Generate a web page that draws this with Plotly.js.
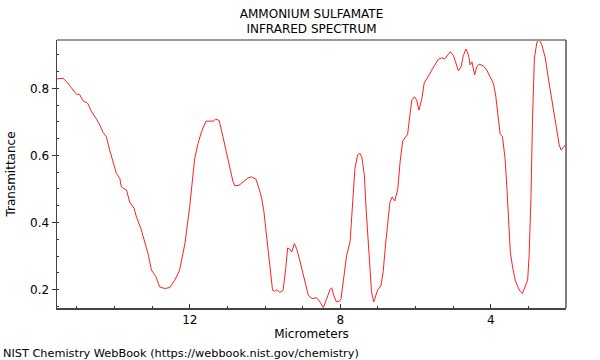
<!DOCTYPE html>
<html>
<head>
<meta charset="utf-8">
<script src="https://cdn.plot.ly/plotly-3.0.1.min.js"></script>
<style>html,body{margin:0;padding:0;background:#fff;}#chart{width:600px;height:360px;}</style>
</head>
<body>
<div id="chart"></div>
<script>
// Wavelength in micrometers (x) and transmittance (y)
const wavelength_um = [15.53,15.37,15.28,15.17,15.01,14.93,14.84,14.71,14.62,14.48,14.39,14.31,14.22,14.13,14.04,13.95,13.86,13.82,13.68,13.60,13.48,13.42,13.30,13.24,13.11,13.02,12.90,12.80,12.67,12.53,12.40,12.27,12.13,12.00,11.93,11.87,11.78,11.69,11.57,11.47,11.38,11.31,11.22,11.16,11.07,11.00,10.94,10.85,10.80,10.69,10.58,10.45,10.36,10.24,10.16,10.09,10.03,9.96,9.89,9.80,9.74,9.68,9.61,9.52,9.45,9.40,9.34,9.29,9.22,9.16,9.09,9.03,8.94,8.85,8.75,8.63,8.54,8.45,8.36,8.27,8.23,8.16,8.10,8.03,7.98,7.89,7.83,7.74,7.70,7.65,7.61,7.54,7.48,7.43,7.36,7.32,7.27,7.21,7.17,7.11,7.06,7.01,6.92,6.86,6.79,6.74,6.68,6.62,6.55,6.47,6.41,6.34,6.28,6.21,6.15,6.10,6.03,5.97,5.91,5.83,5.77,5.66,5.57,5.50,5.39,5.30,5.23,5.13,5.08,4.99,4.93,4.86,4.79,4.73,4.66,4.59,4.55,4.50,4.43,4.37,4.31,4.20,4.11,4.02,3.93,3.87,3.81,3.75,3.69,3.62,3.57,3.53,3.48,3.42,3.35,3.28,3.22,3.16,3.09,3.02,2.98,2.93,2.89,2.84,2.77,2.71,2.64,2.55,2.47,2.38,2.31,2.24,2.18,2.13,2.07,2.02];
const transmittance = [0.828,0.830,0.820,0.805,0.782,0.782,0.763,0.755,0.732,0.708,0.690,0.669,0.656,0.616,0.581,0.546,0.531,0.506,0.496,0.461,0.442,0.417,0.382,0.357,0.307,0.258,0.238,0.208,0.203,0.206,0.228,0.258,0.337,0.450,0.531,0.591,0.636,0.670,0.702,0.702,0.702,0.708,0.704,0.676,0.631,0.591,0.556,0.521,0.509,0.511,0.521,0.533,0.536,0.529,0.501,0.473,0.432,0.362,0.273,0.198,0.195,0.200,0.191,0.198,0.263,0.324,0.320,0.312,0.337,0.322,0.293,0.263,0.218,0.183,0.173,0.176,0.163,0.146,0.173,0.201,0.205,0.178,0.163,0.165,0.173,0.253,0.302,0.342,0.402,0.481,0.561,0.601,0.606,0.596,0.541,0.452,0.362,0.273,0.193,0.163,0.178,0.198,0.211,0.253,0.342,0.402,0.461,0.476,0.464,0.501,0.581,0.643,0.651,0.663,0.720,0.765,0.775,0.765,0.735,0.770,0.815,0.838,0.855,0.867,0.887,0.891,0.887,0.904,0.909,0.897,0.879,0.852,0.864,0.897,0.917,0.899,0.870,0.879,0.840,0.864,0.872,0.867,0.855,0.835,0.815,0.780,0.720,0.663,0.656,0.591,0.501,0.402,0.312,0.267,0.228,0.208,0.195,0.188,0.208,0.228,0.302,0.481,0.710,0.890,0.939,0.944,0.929,0.890,0.830,0.770,0.730,0.681,0.631,0.616,0.623,0.631];

const xTickVals = [12, 8, 4];
const yTickVals = [0.2, 0.4, 0.6, 0.8];

const font = {family: 'DejaVu Sans, sans-serif', size: 12, color: '#000'};

const trace = {
  x: wavelength_um,
  y: transmittance,
  type: 'scatter',
  mode: 'lines',
  line: {color: '#ff2020', width: 1},
  hoverinfo: 'skip'
};

const layout = {
  width: 600,
  height: 360,
  margin: {l: 57, r: 34, t: 40, b: 52, pad: 0},
  paper_bgcolor: '#fff',
  plot_bgcolor: '#fff',
  font: font,
  showlegend: false,
  title: {
    text: 'AMMONIUM SULFAMATE<br>INFRARED SPECTRUM',
    font: font,
    xref: 'paper', x: 0.5, xanchor: 'center',
    yref: 'container', y: 0.951, yanchor: 'top'
  },
  xaxis: {
    range: [15.53, 2.0],
    autorange: false,
    tickmode: 'array',
    tickvals: xTickVals,
    ticktext: xTickVals.map(String),
    ticks: 'inside', ticklen: 4, tickcolor: '#333', tickwidth: 1,
    minor: {dtick: 1, tick0: 0, ticks: 'inside', ticklen: 2, tickcolor: '#333', showgrid: false},
    showline: true, linecolor: '#444', linewidth: 1.5, mirror: false,
    showgrid: false, zeroline: false,
    tickfont: font,
    title: {text: 'Micrometers', font: font, standoff: 2}
  },
  yaxis: {
    range: [0.145, 0.944],
    autorange: false,
    tickmode: 'array',
    tickvals: yTickVals,
    ticktext: ['0.2', '0.4', '0.6', '0.8'],
    ticks: 'outside', ticklen: 4, tickcolor: '#333', tickwidth: 1,
    minor: {dtick: 0.05, tick0: 0, ticks: 'inside', ticklen: 2, tickcolor: '#333', showgrid: false},
    showline: true, linecolor: '#444', linewidth: 1.5, mirror: false,
    showgrid: false, zeroline: false,
    tickfont: font,
    title: {text: 'Transmittance', font: font, standoff: 12}
  },
  shapes: [
    {type: 'line', xref: 'paper', yref: 'paper', x0: 0, x1: 1, y0: 1, y1: 1, line: {color: '#999', width: 2}},
    {type: 'line', xref: 'paper', yref: 'paper', x0: 1, x1: 1, y0: 0, y1: 1, line: {color: '#555', width: 1.5}}
  ],
  annotations: [
    {text: 'NIST Chemistry WebBook (https://webbook.nist.gov/chemistry)', xref: 'paper', yref: 'paper', x: 0, y: 0, showarrow: false, xanchor: 'left', yanchor: 'middle', xshift: -56, yshift: -45, font: {family: 'DejaVu Sans, sans-serif', size: 11.3, color: '#000'}}
  ]
};

Plotly.newPlot('chart', [trace], layout, {displayModeBar: false, staticPlot: true});
</script>
</body>
</html>
